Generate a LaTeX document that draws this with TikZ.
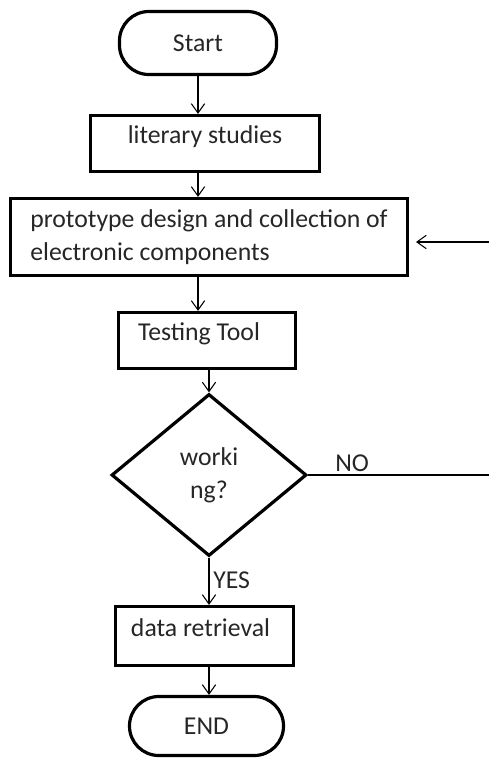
\documentclass[tikz,border=0pt]{standalone}
\usepackage{fontspec}
\setmainfont{Carlito}
\usetikzlibrary{shapes.geometric,arrows.meta}

\begin{document}
\begin{tikzpicture}[x=0.75pt,y=-0.75pt,
  every node/.style={font=\fontsize{19.3}{24.75}\selectfont, text=black!85},
  stepbox/.style={draw=black, line width=2.4pt, rectangle, inner sep=0pt,
    text height=13pt, text depth=13pt},
  termbox/.style={draw=black, line width=2.4pt, rectangle, inner sep=0pt,
    rounded corners=22pt},
  decbox/.style={draw=black, line width=2.4pt, diamond, inner sep=0pt, align=center},
  flow/.style={draw=black, line width=0.8pt, -{Straight Barb[length=7pt,width=10pt]}},
  plain/.style={draw=black, line width=0.8pt},
  lbl/.style={inner sep=0pt}
]
\useasboundingbox (0,0) rectangle (489,759);

% process chain
\node[termbox, minimum width=117.75pt, minimum height=47.25pt] (start) at (198,43) {\raisebox{-1.5pt}{Start}};
\node[stepbox, minimum width=171.75pt, minimum height=42pt] (lit) at (205,143.5) {literary studies};
\node[draw=black, line width=2.4pt, rectangle, inner sep=0pt, align=left,
      minimum width=297.75pt, minimum height=57.75pt] (proto) at (209,237)
      {prototype design and collection of\\electronic components};
\node[stepbox, minimum width=132.75pt, minimum height=42pt] (test) at (207,340.5) {Testing Tool\hspace*{12pt}};
\node[decbox, minimum width=146.25pt, minimum height=121.5pt] (dec) at (209,475) {worki\\ng?};
\node[stepbox, minimum width=133.5pt, minimum height=44.25pt] (data) at (204.5,636) {data retrieval\hspace*{6pt}};
\node[termbox, minimum width=115.5pt, minimum height=44.25pt] (end) at (206.5,726) {END};

% loop-back ends at the right edge
\coordinate (noend) at (489,475);
\coordinate (fbin) at (489,242);
\coordinate (fbtip) at (416,242);

% connectors
\draw[flow] (start.south) -- (lit.north -| start);
\draw[flow] (lit.south -| start) -- (proto.north -| start);
\draw[flow] (proto.south -| start) -- (test.north -| start);
\draw[flow] (test.south -| dec) -- (dec.north);
\draw[flow] (dec.south) -- (data.north -| dec);
\draw[flow] (data.south -| dec) -- (end.north -| dec);
\draw[plain] (dec.east) -- (noend);
\draw[flow] (fbin) -- (fbtip);

% branch labels
\node[lbl, anchor=west] (yes) at (213,580) {YES};
\node[lbl, anchor=west] (no) at (335,463) {NO};
\end{tikzpicture}
\end{document}
